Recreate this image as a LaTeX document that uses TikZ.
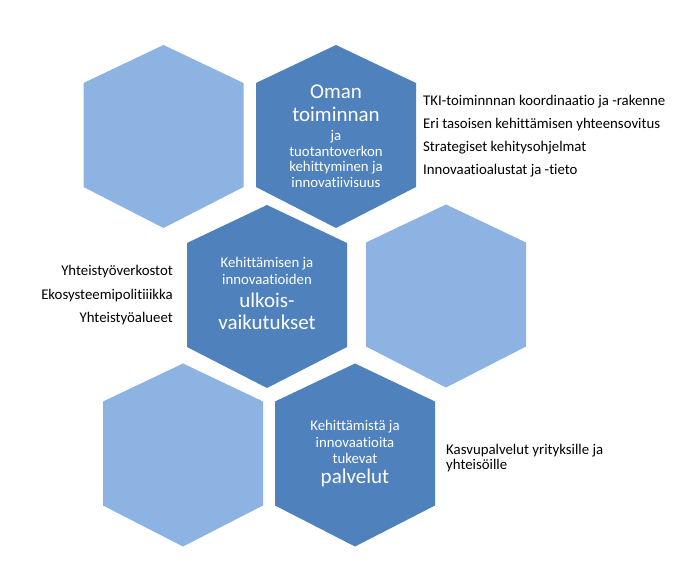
\documentclass[tikz,border=0pt]{standalone}
\usepackage{fontspec}
\setmainfont{Carlito}[Ligatures=NoCommon]
\definecolor{hexlight}{RGB}{141,179,226}
\definecolor{hexdark}{RGB}{79,129,189}
\tikzset{
  hexa/.pic={\path[pic actions] (0,-91.5) -- (80,-53.5) -- (80,50.5) -- (0,91.5) -- (-80,50.5) -- (-80,-53.5) -- cycle;},
  lighthex/.style={fill=hexlight},
  darkhex/.style={fill=hexdark},
  small/.style={font=\fontsize{14.8}{17}\selectfont, text=white, anchor=base, inner sep=0pt},
  big/.style={font=\fontsize{21}{24}\selectfont, text=white, anchor=base, inner sep=0pt},
  itemw/.style={font=\fontsize{14.8}{17}\selectfont, text=black, anchor=base west, inner sep=0pt},
  iteme/.style={font=\fontsize{14.8}{17}\selectfont, text=black, anchor=base east, inner sep=0pt},
}
\begin{document}
\begin{tikzpicture}[x=1pt,y=-1pt]
\useasboundingbox[fill=white] (0,0) rectangle (693,561);
% hexagons
\pic[lighthex] (h1) at (163.5,136.5) {hexa};
\pic[darkhex]  (h2) at (336,136.5) {hexa};
\pic[darkhex]  (h3) at (267,296.5) {hexa};
\pic[lighthex] (h4) at (446,296) {hexa};
\pic[lighthex] (h5) at (183,455) {hexa};
\pic[darkhex]  (h6) at (355,455) {hexa};
% text in top hexagon
\node[big]   (t1) at (336,99)  {Oman};
\node[big]   (t2) at (336,122) {toiminnan};
\node[small] (t3) at (336,141) {ja};
\node[small] (t4) at (336,157) {tuotantoverkon};
\node[small] (t5) at (336,172) {kehittyminen ja};
\node[small] (t6) at (336,188) {innovatiivisuus};
% text in middle hexagon
\node[small] (m1) at (267,268) {Kehittämisen ja};
\node[small] (m2) at (267,284) {innovaatioiden};
\node[big]   (m3) at (267,307) {ulkois-};
\node[big]   (m4) at (267,329) {vaikutukset};
% text in bottom hexagon
\node[small] (b1) at (355,430) {Kehittämistä ja};
\node[small] (b2) at (355,447) {innovaatioita};
\node[small] (b3) at (355,463) {tukevat};
\node[big]   (b4) at (355,483) {palvelut};
% right list
\node[itemw] (r1) at (423,106) {TKI-toiminnnan koordinaatio ja -rakenne};
\node[itemw] (r2) at (423,129) {Eri tasoisen kehittämisen yhteensovitus};
\node[itemw] (r3) at (423,152) {Strategiset kehitysohjelmat};
\node[itemw] (r4) at (423,175) {Innovaatioalustat ja -tieto};
% left list
\node[iteme] (l1) at (173,276) {Yhteistyöverkostot};
\node[iteme] (l2) at (173,299) {Ekosysteemipolitiiikka};
\node[iteme] (l3) at (173,322) {Yhteistyöalueet};
% bottom right
\node[itemw] (k1) at (446,454) {Kasvupalvelut yrityksille ja};
\node[itemw] (k2) at (446,469) {yhteisöille};
\end{tikzpicture}
\end{document}
